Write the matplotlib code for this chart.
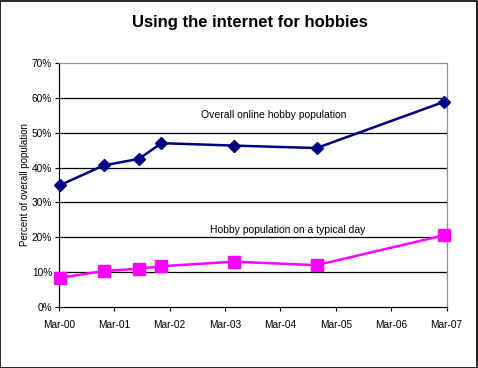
import pandas as pd
import matplotlib
matplotlib.use("Agg")
import matplotlib.pyplot as plt
import matplotlib.dates as mdates
import matplotlib.patches as mpatches
from matplotlib.ticker import FuncFormatter

plt.rcParams['font.family'] = ['Liberation Sans', 'DejaVu Sans']

# ==== data ====
dates = pd.to_datetime(["2000-03-10", "2000-12-20", "2001-08-10", "2002-01-06",
                        "2003-05-01", "2004-10-25", "2007-02-15"])
overall = [35.0, 40.6, 42.5, 47.0, 46.3, 45.6, 58.9]
typical = [8.4, 10.3, 11.0, 11.7, 13.0, 12.0, 20.6]

label_overall = "Overall online hobby population"
label_typical = "Hobby population on a typical day"
title = "Using the internet for hobbies"
ylabel = "Percent of overall population"

tick_dates = pd.date_range("2000-03-01", "2007-03-01", freq="12MS")

# ==== figure ====
fig = plt.figure(figsize=(4.78, 3.68), dpi=100)
ax = fig.add_axes([59 / 478, 61 / 368, 387.5 / 478, 244 / 368])

ax.plot(dates, overall, color='#000080', linewidth=1.8, marker='D', markersize=6,
        clip_on=False, zorder=3)
ax.plot(dates, typical, color='#FF00FF', linewidth=1.8, marker='s', markersize=8,
        clip_on=False, zorder=3)

ax.set_xlim(tick_dates[0], tick_dates[-1])
ax.set_ylim(0, 70)
ax.set_yticks(range(0, 71, 10))
ax.yaxis.set_major_formatter(FuncFormatter(lambda v, p: f"{int(v)}%"))
ax.set_xticks(tick_dates)
ax.xaxis.set_major_formatter(mdates.DateFormatter("%b-%y"))

ax.tick_params(axis='both', labelsize=7.3, direction='out', length=3, width=0.8, colors='black')
ax.tick_params(axis='x', pad=6)
ax.tick_params(axis='y', pad=2)

# grid lines (black)
for v in range(10, 70, 10):
    ax.axhline(v, color='black', linewidth=0.9, zorder=1)

for side in ['top', 'right']:
    ax.spines[side].set_color('#909090')
    ax.spines[side].set_linewidth(0.9)
for side in ['left', 'bottom']:
    ax.spines[side].set_color('black')
    ax.spines[side].set_linewidth(0.9)

ax.set_ylabel(ylabel, fontsize=7, labelpad=1)

ax.text(0.553, 0.785, label_overall, transform=ax.transAxes, fontsize=7.5,
        ha='center', va='center')
ax.text(0.59, 0.317, label_typical, transform=ax.transAxes, fontsize=7.5,
        ha='center', va='center')

fig.text(0.523, 0.94, title, fontsize=12, fontweight='bold', ha='center', va='center')

# outer border
fig.patches.append(mpatches.Rectangle((0.001, 0.001), 0.997, 0.997, transform=fig.transFigure,
                                      fill=False, edgecolor='black', linewidth=1.2))

plt.savefig("out.png", dpi=100)
